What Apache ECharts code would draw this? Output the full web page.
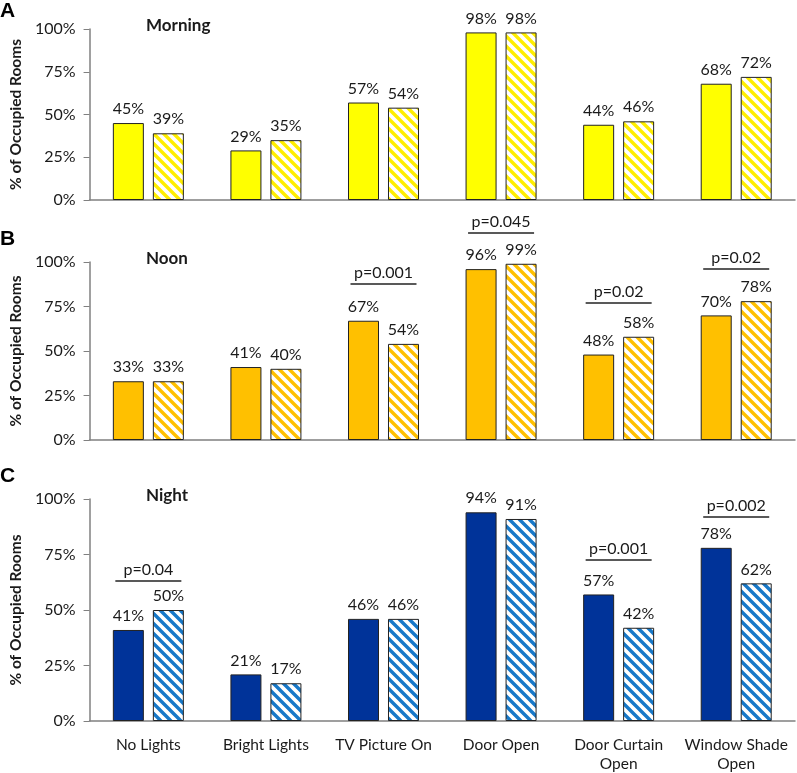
<!DOCTYPE html>
<html>
<head>
<meta charset="utf-8">
<script src="https://cdn.jsdelivr.net/npm/echarts@6/dist/echarts.min.js"></script>
<style>html,body{margin:0;padding:0;background:#fff}#c{width:797px;height:773px}</style>
</head>
<body>
<div id="c"></div>
<script>
const categories = ['No Lights', 'Bright Lights', 'TV Picture On', 'Door Open', 'Door Curtain\nOpen', 'Window Shade\nOpen'];
const yTicks = [0, 25, 50, 75, 100];
const morningSolid = [45, 29, 57, 98, 44, 68];
const morningHatched = [39, 35, 54, 98, 46, 72];
const noonSolid = [33, 41, 67, 96, 48, 70];
const noonHatched = [33, 40, 54, 99, 58, 78];
const nightSolid = [41, 21, 46, 94, 57, 78];
const nightHatched = [50, 17, 46, 91, 42, 62];
const panelTitles = ['Morning', 'Noon', 'Night'];
const panelLetters = ['A', 'B', 'C'];
const morningPCats = [];
const morningPLevels = [];
const morningPTexts = [];
const noonPCats = [2, 3, 4, 5];
const noonPLevels = [87.6, 116.3, 77, 96];
const noonPTexts = ['p=0.001', 'p=0.045', 'p=0.02', 'p=0.02'];
const nightPCats = [0, 4, 5];
const nightPLevels = [63.1, 72.5, 91.9];
const nightPTexts = ['p=0.04', 'p=0.001', 'p=0.002'];

const FONT = 'Lato, "Open Sans", sans-serif';
const TXT = '#1a1a1a';

function hatch(color) {
  const c = document.createElement('canvas');
  c.width = 10; c.height = 10;
  const ctx = c.getContext('2d');
  ctx.fillStyle = '#fff';
  ctx.fillRect(0, 0, 10, 10);
  ctx.strokeStyle = color;
  ctx.lineWidth = 3.4;
  ctx.beginPath();
  ctx.moveTo(-2, -2); ctx.lineTo(12, 12);
  ctx.moveTo(-2, 8); ctx.lineTo(2, 12);
  ctx.moveTo(8, -2); ctx.lineTo(12, 2);
  ctx.stroke();
  return c;
}

const panels = [
  { solid: morningSolid, hatched: morningHatched, color: '#FFFF00', stripe: '#FFEE00', pc: morningPCats, pl: morningPLevels, pt: morningPTexts, top: 29, height: 171 },
  { solid: noonSolid, hatched: noonHatched, color: '#FFC000', stripe: '#FFC000', pc: noonPCats, pl: noonPLevels, pt: noonPTexts, top: 262, height: 178 },
  { solid: nightSolid, hatched: nightHatched, color: '#003399', stripe: '#1778C8', pc: nightPCats, pl: nightPLevels, pt: nightPTexts, top: 499, height: 222 }
];

const grids = [], xAxes = [], yAxes = [], series = [], titles = [];
panels.forEach((p, i) => {
  grids.push({ left: 87, right: 2, top: p.top, height: p.height, containLabel: false });
  xAxes.push({
    type: 'category', gridIndex: i, data: categories,
    axisLine: { show: true, lineStyle: { color: '#808080', width: 1.5 } },
    axisTick: { show: false },
    axisLabel: { show: i === 2, fontSize: 15.5, color: TXT, fontFamily: FONT, margin: 14, lineHeight: 19, interval: 0 }
  });
  yAxes.push({
    type: 'value', gridIndex: i, min: yTicks[0], max: yTicks[yTicks.length - 1], interval: 25,
    name: '% of Occupied Rooms', nameLocation: 'middle', nameRotate: 90, nameGap: 48,
    nameTextStyle: { fontSize: 15.5, fontWeight: 'bold', color: TXT, fontFamily: FONT },
    axisLine: { show: true, lineStyle: { color: '#808080', width: 1.5 } },
    axisTick: { show: true, length: 6, lineStyle: { color: '#808080' } },
    splitLine: { show: false },
    axisLabel: { formatter: '{value}%', fontSize: 16, color: TXT, fontFamily: FONT, margin: 14 }
  });
  const lbl = { show: true, position: 'top', distance: 6, formatter: '{c}%', fontSize: 16, color: TXT, fontFamily: FONT };
  series.push({
    type: 'bar', xAxisIndex: i, yAxisIndex: i, data: p.solid, barWidth: 31, barGap: '29%',
    itemStyle: { color: p.color, borderColor: '#222', borderWidth: 1 }, label: lbl
  });
  series.push({
    type: 'bar', xAxisIndex: i, yAxisIndex: i, data: p.hatched, barWidth: 31, barGap: '29%',
    itemStyle: { color: { image: hatch(p.stripe), repeat: 'repeat' }, borderColor: '#222', borderWidth: 1 }, label: lbl
  });
  const texts = p.pt;
  series.push({
    type: 'custom', xAxisIndex: i, yAxisIndex: i, clip: false, z: 10,
    data: p.pc.map((c, k) => [c, p.pl[k]]),
    encode: { x: 0, y: 1 },
    renderItem: function (params, api) {
      const pt = api.coord([api.value(0), api.value(1)]);
      const hw = 33;
      return {
        type: 'group', children: [
          { type: 'line', shape: { x1: pt[0] - hw, y1: pt[1], x2: pt[0] + hw, y2: pt[1] }, style: { stroke: '#222', lineWidth: 1.5 } },
          { type: 'text', x: pt[0], y: pt[1] - 3, style: { text: texts[params.dataIndex], align: 'center', verticalAlign: 'bottom', fontSize: 16, fontFamily: FONT, fill: TXT } }
        ]
      };
    }
  });
  titles.push({ text: panelTitles[i], left: 146, top: p.top - 12, padding: 0, textStyle: { fontSize: 17, fontWeight: 'bold', color: TXT, fontFamily: FONT } });
});
titles.push({ text: panelLetters[0], left: 0, top: 1, padding: 0, textStyle: { fontSize: 21, fontWeight: 'bold', color: '#000', fontFamily: '"Liberation Sans", Arial, sans-serif' } });
titles.push({ text: panelLetters[1], left: 0, top: 229, padding: 0, textStyle: { fontSize: 21, fontWeight: 'bold', color: '#000', fontFamily: '"Liberation Sans", Arial, sans-serif' } });
titles.push({ text: panelLetters[2], left: 0, top: 466, padding: 0, textStyle: { fontSize: 21, fontWeight: 'bold', color: '#000', fontFamily: '"Liberation Sans", Arial, sans-serif' } });

const chart = echarts.init(document.getElementById('c'), null, { renderer: 'canvas' });
chart.setOption({
  animation: false,
  backgroundColor: '#fff',
  title: titles,
  grid: grids, xAxis: xAxes, yAxis: yAxes, series: series
});
</script>
</body>
</html>
